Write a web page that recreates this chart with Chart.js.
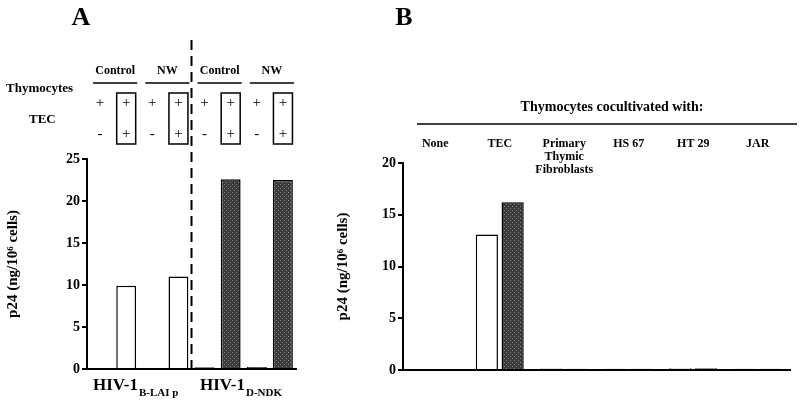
<!DOCTYPE html>
<html><head>
<script src="https://cdn.jsdelivr.net/npm/chart.js@4"></script>
<style>
body{margin:0;background:#fff;width:800px;height:406px;overflow:hidden;position:relative;font-family:"Liberation Serif",serif;}
canvas{position:absolute;top:0;}
</style></head><body>
<canvas id="chartA" style="left:0" width="400" height="406"></canvas>
<canvas id="chartB" style="left:330px" width="470" height="406"></canvas>
<script>
// panel A
const barsA = ['Control -', 'Control +', 'NW -', 'NW +', 'Control -', 'Control +', 'NW -', 'NW +'];
const valuesA = [0.15, 9.9, 0.15, 11.0, 0.2, 22.6, 0.25, 22.5];
const thymoRow = ['+', '+', '+', '+', '+', '+', '+', '+'];
const tecRow = ['-', '+', '-', '+', '-', '+', '-', '+'];
const groupsA = ['Control', 'NW', 'Control', 'NW'];
const ticksA = [0, 5, 10, 15, 20, 25];

// panel B
const categoriesB = ['None', 'TEC', 'Primary\nThymic\nFibroblasts', 'HS 67', 'HT 29', 'JAR'];
const firstBar = [0.1, 13.1, 0.15, 0.12, 0.18, 0.12];
const secondBar = [0.1, 16.2, 0.12, 0.12, 0.18, 0.12];
const ticksB = [0, 5, 10, 15, 20];

const F = '"Liberation Serif", serif';

function shade() {
    const c = document.createElement('canvas');
    c.width = 4; c.height = 4;
    const g = c.getContext('2d');
    g.fillStyle = '#3a3a3a';
    g.fillRect(0, 0, 4, 4);
    g.fillStyle = '#8a8a8a';
    g.fillRect(0, 0, 1, 1);
    g.fillRect(2, 2, 1, 1);
    return g.createPattern(c, 'repeat');
}
const gray = shade();

function yAxis(max, ticks, width) {
    return {
        min: 0, max: max,
        afterFit: s => { s.width = width; },
        afterBuildTicks: s => { s.ticks = ticks.map(v => ({ value: v })); },
        border: { color: '#000', width: 2 },
        grid: { drawOnChartArea: false, color: '#000', tickLength: 5, lineWidth: 2 },
        ticks: { color: '#000', font: { family: F, weight: 'bold', size: 14 }, padding: 2 },
        title: { display: true, text: 'p24 (ng/10⁶ cells)', color: '#000', font: { family: F, weight: 'bold', size: 15 }, padding: 4 }
    };
}
function xAxis() {
    return {
        afterFit: s => { s.height = 0; },
        border: { color: '#000', width: 2 },
        grid: { display: false },
        ticks: { display: false }
    };
}

const annotA = {
    id: 'annotA',
    afterDraw(chart) {
        const ctx = chart.ctx, x = chart.scales.x;
        const px = i => x.getPixelForValue(i);
        ctx.save();
        ctx.fillStyle = '#000'; ctx.strokeStyle = '#000';
        ctx.textBaseline = 'middle'; ctx.textAlign = 'center';
        ctx.font = 'bold 26px ' + F;
        ctx.fillText('A', 81, 18);
        ctx.font = 'bold 13px ' + F;
        ctx.textAlign = 'left';
        ctx.fillText('Thymocytes', 6, 89);
        ctx.fillText('TEC', 29, 120);
        ctx.textAlign = 'center';
        ctx.lineWidth = 1.5;
        groupsA.forEach((g, k) => {
            const a = px(2 * k) - 7, b = px(2 * k + 1) + 11;
            ctx.font = 'bold 12px ' + F;
            ctx.fillText(g, (a + b) / 2, 71);
            ctx.beginPath(); ctx.moveTo(a, 83); ctx.lineTo(b, 83); ctx.stroke();
        });
        ctx.font = '15px ' + F;
        barsA.forEach((b, i) => {
            ctx.fillText(thymoRow[i], px(i), 103);
            ctx.fillText(tecRow[i], px(i), 134);
            if (tecRow[i] === '+') ctx.strokeRect(px(i) - 9.5, 93, 19, 51);
        });
        // dashed divider
        const dx = (px(3) + px(4)) / 2;
        ctx.lineWidth = 2; ctx.setLineDash([10, 6]);
        ctx.beginPath(); ctx.moveTo(dx, 40); ctx.lineTo(dx, 370); ctx.stroke();
        ctx.setLineDash([]);
        // virus labels
        [['HIV-1', 'B-LAI p', 93], ['HIV-1', 'D-NDK', 200]].forEach(([t, s, x0]) => {
            ctx.textAlign = 'left';
            ctx.font = 'bold 17px ' + F;
            ctx.fillText(t, x0, 386);
            const w = ctx.measureText(t).width;
            ctx.font = 'bold 11px ' + F;
            ctx.fillText(s, x0 + w + 1, 393);
        });
        ctx.restore();
    }
};

new Chart(document.getElementById('chartA'), {
    type: 'bar',
    data: {
        labels: barsA,
        datasets: [{
            data: valuesA,
            backgroundColor: valuesA.map((v, i) => i < 4 ? '#fff' : gray),
            borderColor: '#000', borderWidth: 1.5,
            barPercentage: 0.76, categoryPercentage: 1
        }]
    },
    options: {
        responsive: false, animation: false,
        layout: { padding: { top: 159, right: 104, bottom: 37, left: 0 } },
        plugins: { legend: { display: false }, tooltip: { enabled: false } },
        scales: { x: xAxis(), y: yAxis(25, ticksA, 87) }
    },
    plugins: [annotA]
});

const annotB = {
    id: 'annotB',
    afterDraw(chart) {
        const ctx = chart.ctx, x = chart.scales.x;
        ctx.save();
        ctx.fillStyle = '#000'; ctx.strokeStyle = '#000';
        ctx.textBaseline = 'middle'; ctx.textAlign = 'center';
        ctx.font = 'bold 26px ' + F;
        ctx.fillText('B', 404 - 330 + 0, 18);
        ctx.font = 'bold 14px ' + F;
        ctx.fillText('Thymocytes cocultivated with:', 612 - 330, 107);
        ctx.lineWidth = 1.5;
        ctx.beginPath(); ctx.moveTo(417 - 330, 124); ctx.lineTo(797 - 330, 124); ctx.stroke();
        ctx.font = 'bold 12px ' + F;
        categoriesB.forEach((c, i) => {
            c.split('\n').forEach((line, j) => ctx.fillText(line, x.getPixelForValue(i), 144 + j * 13));
        });
        ctx.restore();
    }
};

new Chart(document.getElementById('chartB'), {
    type: 'bar',
    data: {
        labels: categoriesB,
        datasets: [
            { data: firstBar, backgroundColor: '#fff', borderColor: '#000', borderWidth: 1.5, barPercentage: 0.86, categoryPercentage: 0.8 },
            { data: secondBar, backgroundColor: gray, borderColor: '#000', borderWidth: 1.5, barPercentage: 0.86, categoryPercentage: 0.8 }
        ]
    },
    options: {
        responsive: false, animation: false,
        layout: { padding: { top: 163, right: 10, bottom: 36, left: 0 } },
        plugins: { legend: { display: false }, tooltip: { enabled: false } },
        scales: { x: xAxis(), y: yAxis(20, ticksB, 73) }
    },
    plugins: [annotB]
});
</script>
</body></html>
